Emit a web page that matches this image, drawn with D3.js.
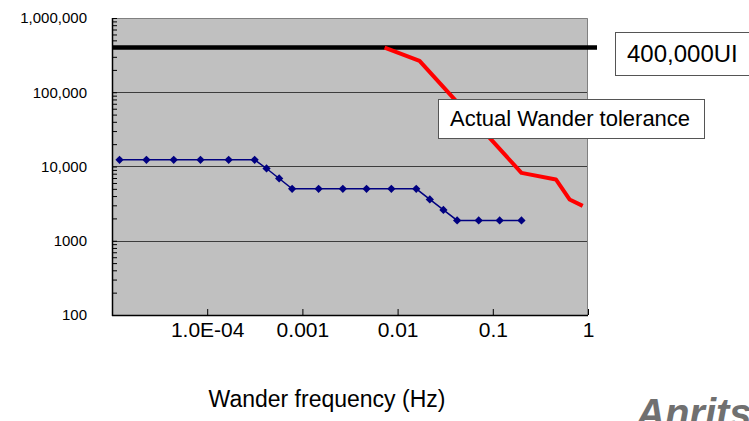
<!DOCTYPE html>
<html>
<head>
<meta charset="utf-8">
<script src="https://cdn.jsdelivr.net/npm/d3@7"></script>
<style>
    body { margin: 0; background: #fff; overflow: hidden; }
    svg { display: block; font-family: "Liberation Sans", Arial, sans-serif; }
</style>
</head>
<body>
<div id="chart"></div>
<script>
// wander tolerance mask (blue diamonds)
const maskFreq = [1.2e-5, 2.3e-5, 4.45e-5, 8.5e-5, 1.68e-4, 3.15e-4, 4.2e-4, 5.7e-4, 7.8e-4,
    1.48e-3, 2.66e-3, 4.72e-3, 8.6e-3, 0.0157, 0.0218, 0.0303, 0.0422, 0.0711, 0.118, 0.2];
const maskUI = [12300, 12300, 12300, 12300, 12300, 12300, 9400, 6900, 5000,
    5000, 5000, 5000, 5000, 5000, 3600, 2600, 1880, 1880, 1880, 1880];

// measured tolerance (red)
const actualFreq = [0.0073, 0.017, 0.2, 0.46, 0.64, 0.88];
const actualUI = [400000, 265000, 8200, 6700, 3600, 2950];

const limitUI = 400000;

const yTickValues = [100, 1000, 10000, 100000, 1000000];
const yTickLabels = ['100', '1000', '10,000', '100,000', '1,000,000'];
const xTickValues = [1e-4, 1e-3, 1e-2, 1e-1, 1];
const xTickLabels = ['1.0E-04', '0.001', '0.01', '0.1', '1'];

const width = 749;
const height = 421;
const plot = { left: 112, right: 588, top: 18, bottom: 315 };

const svg = d3.select('#chart')
    .append('svg')
    .attr('width', width)
    .attr('height', height);

const x = d3.scaleLog()
    .domain([1e-5, 1])
    .range([plot.left, plot.right]);

const y = d3.scaleLog()
    .domain([100, 1000000])
    .range([plot.bottom, plot.top]);

// plot area
svg.append('rect')
    .attr('x', plot.left)
    .attr('y', plot.top)
    .attr('width', plot.right - plot.left)
    .attr('height', plot.bottom - plot.top)
    .attr('fill', '#c0c0c0');

// gridlines
svg.append('g')
    .selectAll('line')
    .data(yTickValues.slice(1, -1))
    .enter().append('line')
    .attr('x1', plot.left)
    .attr('x2', plot.right)
    .attr('y1', d => Math.round(y(d)) + 0.5)
    .attr('y2', d => Math.round(y(d)) + 0.5)
    .attr('stroke', '#3c3c3c')
    .attr('stroke-width', 1);

// top + right border
svg.append('path')
    .attr('d', `M${plot.left},${plot.top + 0.5}H${plot.right - 0.5}V${plot.bottom}`)
    .attr('fill', 'none')
    .attr('stroke', '#808080')
    .attr('stroke-width', 1);

// y axis: inward minor ticks
const yTicksG = svg.append('g')
    .attr('transform', `translate(${plot.left},0)`)
    .call(d3.axisRight(y).tickValues(y.ticks()).tickSize(5).tickFormat(''));
yTicksG.select('.domain').remove();
yTicksG.selectAll('line').attr('stroke', '#000');
svg.append('line')
    .attr('x1', plot.left + 0.5).attr('x2', plot.left + 0.5)
    .attr('y1', plot.top).attr('y2', plot.bottom + 1)
    .attr('stroke', '#000').attr('stroke-width', 1.5);

// y labels
const yLab = svg.append('g')
    .attr('transform', `translate(${plot.left},0)`)
    .call(d3.axisLeft(y).tickValues(yTickValues).tickSize(0).tickPadding(25)
        .tickFormat((d, i) => yTickLabels[i]));
yLab.select('.domain').remove();
yLab.selectAll('text').style('font-size', '15px').attr('fill', '#000');

// x axis: inward ticks
const xTicksG = svg.append('g')
    .attr('transform', `translate(0,${plot.bottom})`)
    .call(d3.axisTop(x).tickValues(xTickValues).tickSize(6).tickFormat(''));
xTicksG.select('.domain').remove();
xTicksG.selectAll('line').attr('stroke', '#000');
svg.append('line')
    .attr('x1', plot.left).attr('x2', plot.right)
    .attr('y1', plot.bottom + 0.5).attr('y2', plot.bottom + 0.5)
    .attr('stroke', '#000').attr('stroke-width', 1.5);

const xLab = svg.append('g')
    .attr('transform', `translate(0,${plot.bottom})`)
    .call(d3.axisBottom(x).tickValues(xTickValues).tickSize(0).tickPadding(7)
        .tickFormat((d, i) => xTickLabels[i]));
xLab.select('.domain').remove();
xLab.selectAll('text').style('font-size', '21px').attr('fill', '#000');

// 400,000 UI limit
svg.append('line')
    .attr('x1', plot.left)
    .attr('x2', plot.right + 9)
    .attr('y1', y(limitUI))
    .attr('y2', y(limitUI))
    .attr('stroke', '#000')
    .attr('stroke-width', 4.5);

// mask line + diamonds
const line = d3.line()
    .x(d => x(d[0]))
    .y(d => y(d[1]));

const maskData = maskFreq.map((f, i) => [f, maskUI[i]]);
svg.append('path')
    .datum(maskData)
    .attr('d', line)
    .attr('fill', 'none')
    .attr('stroke', '#000080')
    .attr('stroke-width', 1.5);

svg.append('g')
    .selectAll('path')
    .data(maskData)
    .enter().append('path')
    .attr('d', d3.symbol(d3.symbolSquare, 34))
    .attr('transform', d => `translate(${x(d[0])},${y(d[1])}) rotate(45)`)
    .attr('fill', '#000080');

// actual tolerance
const actualData = actualFreq.map((f, i) => [f, actualUI[i]]);
svg.append('path')
    .datum(actualData)
    .attr('d', line)
    .attr('fill', 'none')
    .attr('stroke', '#ff0000')
    .attr('stroke-width', 4)
    .attr('stroke-linejoin', 'round');

// callouts
function callout(bx, by, bw, bh, label, size) {
    svg.append('rect')
        .attr('x', bx + 0.5)
        .attr('y', by + 0.5)
        .attr('width', bw)
        .attr('height', bh)
        .attr('fill', '#fff')
        .attr('stroke', '#555')
        .attr('stroke-width', 1);
    svg.append('text')
        .attr('x', bx + 12)
        .attr('y', by + bh / 2)
        .attr('dy', '0.36em')
        .style('font-size', size + 'px')
        .attr('fill', '#000')
        .text(label);
}
callout(615, 32, 134, 43, '400,000UI', 24);
callout(438, 99, 266, 39, 'Actual Wander tolerance', 22);

// axis title
svg.append('text')
    .attr('x', 327)
    .attr('y', 407)
    .attr('text-anchor', 'middle')
    .style('font-size', '23px')
    .attr('fill', '#000')
    .text('Wander frequency (Hz)');

// logo, cut off at the bottom
svg.append('text')
    .attr('x', 636)
    .attr('y', 427)
    .style('font-size', '40px')
    .style('font-weight', 'bold')
    .style('font-style', 'italic')
    .attr('fill', '#707070')
    .text('Anritsu');
</script>
</body>
</html>
